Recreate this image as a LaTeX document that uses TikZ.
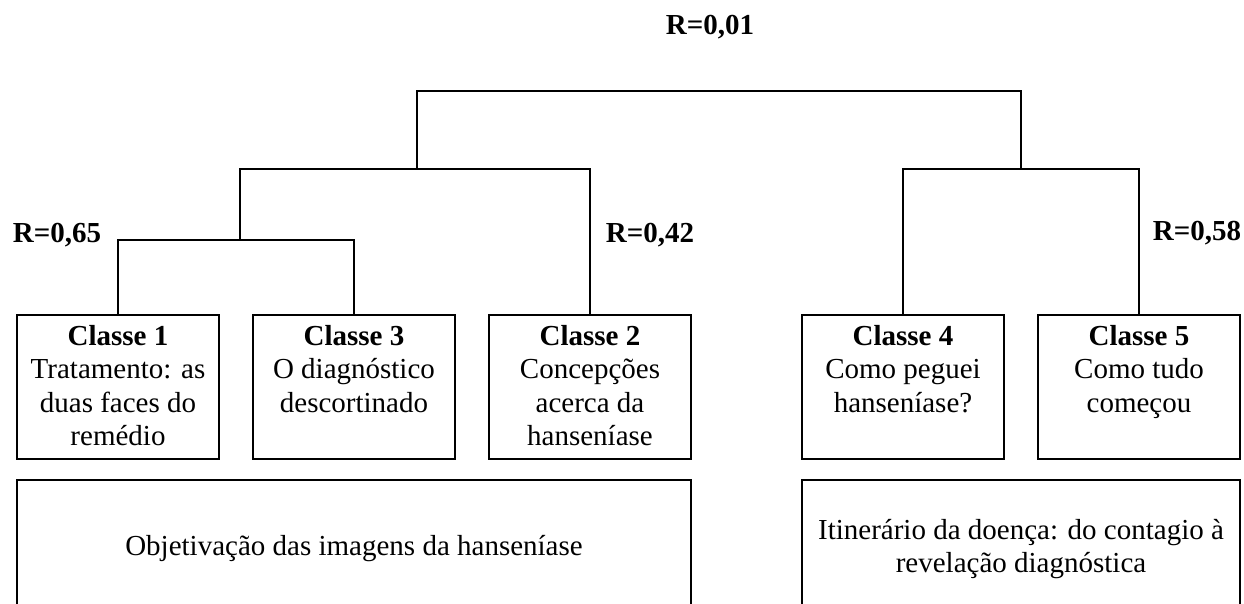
\documentclass[tikz,border=0pt]{standalone}
\usepackage{fontspec}
\setmainfont{Liberation Serif}
\newcommand*{\classheight}{124pt}
\newcommand*{\classtext}[1]{\parbox[t][\classheight][t]{182pt}{\centering #1}}

\begin{document}
\begin{tikzpicture}[x=1pt, y=-1pt,
    every node/.style={font=\fontsize{29}{33.5}\selectfont},
    classbox/.style={draw, line width=1.8pt, inner sep=10pt, anchor=north},
    groupbox/.style={draw, line width=1.8pt, minimum height=138pt, align=center},
    link/.style={line width=2.6pt},
    corr/.style={font=\fontsize{29}{33.5}\selectfont\bfseries}]
    \useasboundingbox (0,0) rectangle (1244,603);
    % classes
    \node[classbox] (c1) at (118,314) {\classtext{\textbf{Classe 1}\\Tratamento: as\\duas faces do\\remédio}};
    \node[classbox] (c3) at (354,314) {\classtext{\textbf{Classe 3}\\O diagnóstico\\descortinado}};
    \node[classbox] (c2) at (590,314) {\classtext{\textbf{Classe 2}\\Concepções\\acerca da\\hanseníase}};
    \node[classbox] (c4) at (903,314) {\classtext{\textbf{Classe 4}\\Como peguei\\hanseníase?}};
    \node[classbox] (c5) at (1139,314) {\classtext{\textbf{Classe 5}\\Como tudo\\começou}};
    % groups of classes
    \node[groupbox, minimum width=674pt] (g1) at (354,549) {Objetivação das imagens da hanseníase};
    \node[groupbox, minimum width=438pt] (g2) at (1021,549) {Itinerário da doença: do contagio à\\revelação diagnóstica};
    % joints of the dendrogram
    \coordinate (j13) at (240,240);
    \coordinate (j132) at (417,169);
    \coordinate (j45) at (1021,169);
    \coordinate (jroot) at (719,91);
    \draw[link] (c1.north) |- (j13) -| (c3.north);
    \draw[link] (j13) |- (j132) -| (c2.north);
    \draw[link] (c4.north) |- (j45) -| (c5.north);
    \draw[link] (j132) |- (jroot) -| (j45);
    % correlations
    \node[corr] (r01) at (710,27) {R=0,01};
    \node[corr] (r65) at (57,235) {R=0,65};
    \node[corr] (r42) at (650,235) {R=0,42};
    \node[corr] (r58) at (1197,233) {R=0,58};
\end{tikzpicture}
\end{document}
